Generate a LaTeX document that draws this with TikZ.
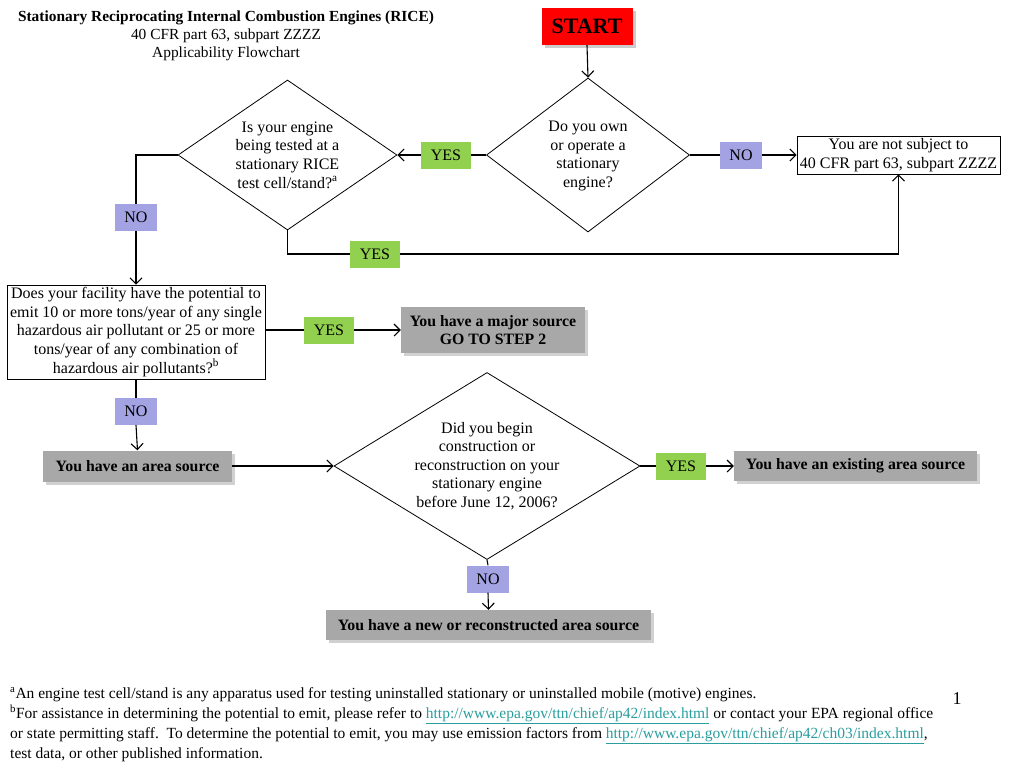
\documentclass[tikz,border=0pt]{standalone}
\usepackage{fontspec}
\setmainfont{Liberation Serif}
\usetikzlibrary{shapes.geometric,arrows.meta,shadows}
\definecolor{yesgreen}{HTML}{92D050}
\definecolor{nopurple}{HTML}{A3A3E3}
\definecolor{boxgray}{HTML}{A8A8A8}
\definecolor{linkteal}{HTML}{2A9D9D}
\begin{document}
\begin{tikzpicture}[x=1pt,y=-1pt,
  body/.style={font=\fontsize{16}{18.6}\selectfont},
  dia/.style={draw=black,line width=0.8pt,shape=diamond,inner sep=0pt},
  dtext/.style={body,align=center,inner sep=0pt},
  yeslab/.style={body,fill=yesgreen,minimum width=50pt,minimum height=27pt,inner sep=0pt},
  nolab/.style={body,fill=nopurple,minimum width=42pt,minimum height=27pt,inner sep=0pt},
  plainbox/.style={body,draw=black,line width=0.8pt,align=center,inner sep=0.5pt},
  graybox/.style={font=\fontsize{15.8}{18.6}\selectfont\bfseries,fill=boxgray,align=center,inner sep=2pt,
    drop shadow={shadow xshift=3pt,shadow yshift=-3pt,fill=black,opacity=0.18}},
  conn/.style={line width=1.1pt},
  arr/.style={line width=1.1pt,-{Straight Barb[length=6pt,width=12pt,line width=1.1pt]}},
  foot/.style={anchor=base west,inner sep=0pt,font=\fontsize{15.5}{17}\selectfont}
]
\useasboundingbox[fill=white] (0,0) rectangle (1024,768);

% title
\node[align=center,inner sep=0pt,font=\fontsize{15.4}{18}\selectfont] (title) at (226,36)
  {\textbf{Stationary Reciprocating Internal Combustion Engines (RICE)}\\40 CFR part 63, subpart ZZZZ\\Applicability Flowchart};

% start
\node[fill=red,minimum width=91pt,minimum height=37pt,inner sep=0pt,font=\fontsize{22}{24}\selectfont\bfseries,
  drop shadow={shadow xshift=3pt,shadow yshift=-3pt,fill=black,opacity=0.2}] (start) at (587,26.5) {START};

% diamond 1
\node[dia,minimum width=203pt,minimum height=154pt] (d1) at (588,155) {};
\node[dtext] (d1t) at (588,156) {Do you own\\or operate a\\stationary\\engine?};

% diamond 2
\node[dia,minimum width=219pt,minimum height=150pt] (d2) at (287.5,155) {};
\node[dtext] (d2t) at (287.5,155) {Is your engine\\being tested at a\\stationary RICE\\test cell/stand?\textsuperscript{a}};

% not subject box
\node[plainbox,minimum width=203pt,minimum height=38pt] (notsub) at (898.5,155)
  {You are not subject to\\40 CFR part 63, subpart ZZZZ};

% labels row 1
\node[yeslab] (yes1) at (446,155) {YES};
\node[nolab] (no1) at (741,155) {NO};
\node[nolab] (no2) at (136,217.5) {NO};
\node[yeslab] (yes2) at (375,254) {YES};

% facility box
\node[plainbox,minimum width=258pt,minimum height=94pt] (fac) at (136,332)
  {Does your facility have the potential to\\emit 10 or more tons/year of any single\\hazardous air pollutant or 25 or more\\tons/year of any combination of\\hazardous air pollutants?\textsuperscript{b}};

\node[yeslab] (yes3) at (329,330) {YES};
\node[graybox,minimum width=184pt,minimum height=46pt] (major) at (493,330)
  {You have a major source\\GO TO STEP 2};

\node[nolab] (no3) at (136,411.5) {NO};
\node[graybox,minimum width=189pt,minimum height=31pt] (area) at (137.5,466) {You have an area source};

% diamond 3
\node[dia,minimum width=306pt,minimum height=187pt] (d3) at (487,466) {};
\node[dtext] (d3t) at (487,466) {Did you begin\\construction or\\reconstruction on your\\stationary engine\\before June 12, 2006?};

\node[yeslab] (yes4) at (681,466) {YES};
\node[graybox,minimum width=243pt,minimum height=30pt] (exist) at (855.5,466) {You have an existing area source};
\node[nolab] (no4) at (488,579) {NO};
\node[graybox,minimum width=325pt,minimum height=30pt] (newsrc) at (488.5,625) {You have a new or reconstructed area source};

% connectors
\draw[arr] (start.south) -- (d1.north);
\draw[conn] (d1.east) -- (no1.west);
\draw[arr] (no1.east) -- (notsub.west);
\draw[conn] (d1.west) -- (yes1.east);
\draw[arr] (yes1.west) -- (d2.east);
\draw[conn] (d2.west) -- (no2.north |- d2.west) -- (no2.north);
\draw[arr] (no2.south) -- (fac.north);
\draw[conn] (d2.south) -- (d2.south |- yes2.west) -- (yes2.west);
\draw[arr] (yes2.east) -- (yes2.east -| notsub.south) -- (notsub.south);
\draw[conn] (fac.east |- yes3.west) -- (yes3.west);
\draw[arr] (yes3.east) -- (major.west |- yes3.east);
\draw[conn] (fac.south) -- (no3.north);
\draw[arr] (no3.south) -- (area.north);
\draw[arr] (area.east) -- (d3.west);
\draw[conn] (d3.east) -- (yes4.west);
\draw[arr] (yes4.east) -- (exist.west |- yes4.east);
\draw[conn] (d3.south) -- (no4.north);
\draw[arr] (no4.south) -- (newsrc.north);

% footnotes
\node[foot] (fa) at (10,698) {\textsuperscript{a}An engine test cell/stand is any apparatus used for testing uninstalled stationary or uninstalled mobile (motive) engines.};
\node[foot] (fb) at (10,718) {\textsuperscript{b}For assistance in determining the potential to emit, please refer to \textcolor{linkteal}{\underline{http://www.epa.gov/ttn/chief/ap42/index.html}} or contact your EPA regional office};
\node[foot] (fc) at (10,738) {or state permitting staff.\ \ To determine the potential to emit, you may use emission factors from \textcolor{linkteal}{\underline{http://www.epa.gov/ttn/chief/ap42/ch03/index.html}},};
\node[foot] (fd) at (10,758) {test data, or other published information.};
\node[anchor=base,inner sep=0pt,font=\fontsize{18}{20}\selectfont] (pagenum) at (957,704) {1};
\end{tikzpicture}
\end{document}
